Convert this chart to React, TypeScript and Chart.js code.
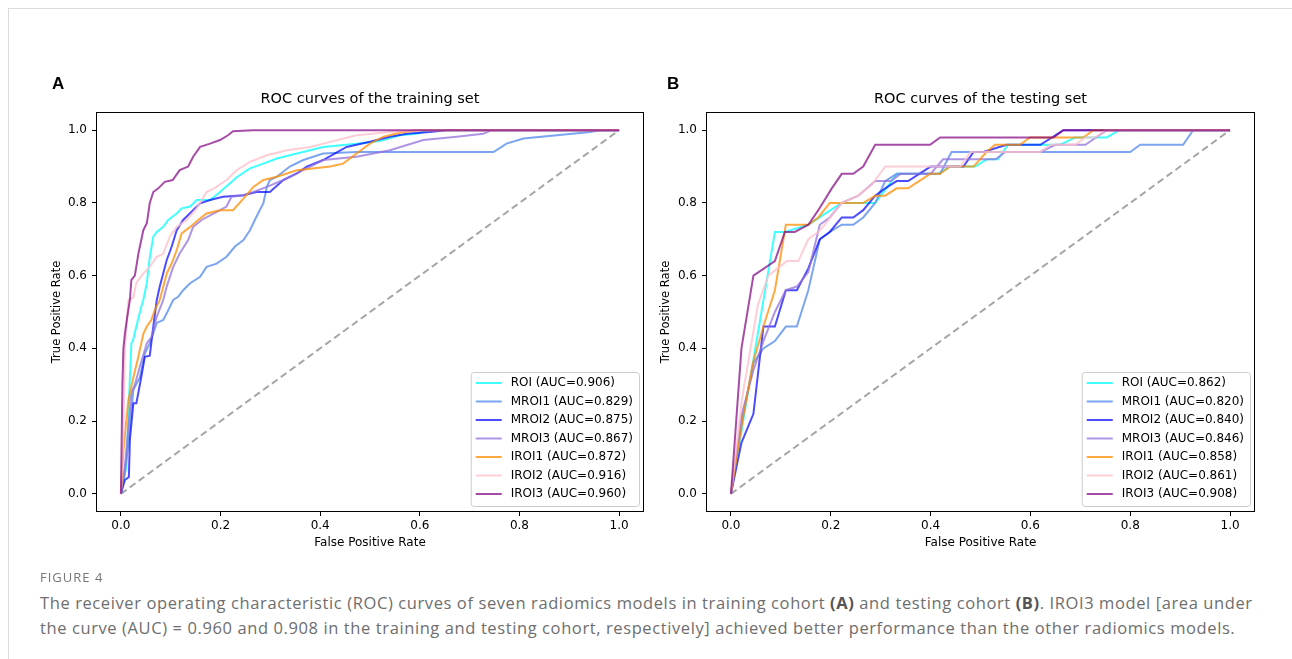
import React, { useEffect, useRef } from 'react';
import { Chart, registerables } from 'chart.js';

Chart.register(...registerables);

// ---------- data ----------
const seriesNames = ['ROI', 'MROI1', 'MROI2', 'MROI3', 'IROI1', 'IROI2', 'IROI3'];
const trainAUC = ['0.906', '0.829', '0.875', '0.867', '0.872', '0.916', '0.960'];
const testAUC = ['0.862', '0.820', '0.840', '0.846', '0.858', '0.861', '0.908'];
const seriesColors = [
  'rgba(0,255,255,0.75)',
  'rgba(100,149,237,0.85)',
  'rgba(0,0,255,0.7)',
  'rgba(147,112,219,0.75)',
  'rgba(255,140,0,0.75)',
  'rgba(255,192,203,0.8)',
  'rgba(128,0,128,0.7)',
];
const axisTicks = [0, 0.2, 0.4, 0.6, 0.8, 1.0];
const chanceLine = [[0, 0], [1, 1]];

const trainROI = [[0,0],[0.011,0.075],[0.016,0.25],[0.021,0.414],[0.024,0.42],[0.031,0.46],[0.041,0.515],[0.045,0.533],[0.052,0.58],[0.058,0.65],[0.065,0.707],[0.072,0.72],[0.085,0.734],[0.095,0.753],[0.112,0.771],[0.122,0.785],[0.139,0.79],[0.152,0.808],[0.179,0.808],[0.199,0.83],[0.219,0.854],[0.232,0.87],[0.259,0.895],[0.286,0.908],[0.313,0.922],[0.353,0.936],[0.38,0.945],[0.406,0.954],[0.473,0.963],[0.52,0.97],[0.56,0.986],[0.594,0.99],[0.62,1],[1,1]];
const trainMROI1 = [[0,0],[0.008,0.058],[0.015,0.139],[0.025,0.286],[0.038,0.32],[0.048,0.386],[0.058,0.414],[0.072,0.47],[0.085,0.478],[0.095,0.505],[0.105,0.533],[0.115,0.542],[0.125,0.56],[0.139,0.579],[0.159,0.597],[0.172,0.624],[0.192,0.633],[0.212,0.652],[0.229,0.68],[0.246,0.698],[0.259,0.725],[0.272,0.762],[0.286,0.799],[0.293,0.844],[0.299,0.863],[0.313,0.872],[0.339,0.9],[0.366,0.918],[0.406,0.936],[0.473,0.94],[0.748,0.94],[0.774,0.963],[0.808,0.977],[0.875,0.986],[0.942,0.995],[0.962,1],[1,1]];
const trainMROI2 = [[0,0],[0.008,0.038],[0.016,0.046],[0.018,0.148],[0.025,0.249],[0.031,0.249],[0.041,0.322],[0.048,0.377],[0.058,0.38],[0.065,0.46],[0.072,0.533],[0.078,0.57],[0.092,0.643],[0.102,0.68],[0.112,0.725],[0.125,0.753],[0.145,0.78],[0.159,0.799],[0.179,0.808],[0.205,0.817],[0.246,0.821],[0.272,0.83],[0.299,0.83],[0.326,0.863],[0.353,0.881],[0.373,0.9],[0.406,0.918],[0.453,0.954],[0.5,0.968],[0.54,0.982],[0.574,0.99],[0.62,0.995],[0.654,1],[1,1]];
const trainMROI3 = [[0,0],[0.008,0.075],[0.021,0.277],[0.028,0.3],[0.038,0.35],[0.052,0.414],[0.061,0.43],[0.072,0.487],[0.085,0.533],[0.092,0.57],[0.105,0.624],[0.118,0.661],[0.135,0.698],[0.145,0.734],[0.162,0.753],[0.179,0.766],[0.199,0.78],[0.212,0.79],[0.222,0.817],[0.246,0.821],[0.266,0.83],[0.293,0.844],[0.326,0.863],[0.353,0.881],[0.406,0.918],[0.473,0.927],[0.54,0.945],[0.607,0.973],[0.674,0.982],[0.727,0.99],[0.745,1],[1,1]];
const trainIROI1 = [[0,0],[0.005,0.12],[0.015,0.258],[0.025,0.32],[0.035,0.377],[0.045,0.44],[0.052,0.46],[0.061,0.478],[0.068,0.505],[0.078,0.533],[0.092,0.606],[0.102,0.634],[0.112,0.67],[0.122,0.716],[0.139,0.734],[0.155,0.753],[0.172,0.771],[0.199,0.78],[0.225,0.78],[0.246,0.812],[0.266,0.844],[0.286,0.863],[0.313,0.872],[0.353,0.89],[0.42,0.9],[0.446,0.908],[0.473,0.936],[0.5,0.963],[0.527,0.982],[0.56,0.993],[0.594,1],[1,1]];
const trainIROI2 = [[0,0],[0.003,0.1],[0.005,0.167],[0.008,0.4],[0.015,0.533],[0.025,0.54],[0.031,0.58],[0.045,0.606],[0.058,0.624],[0.072,0.652],[0.085,0.66],[0.098,0.707],[0.112,0.734],[0.132,0.753],[0.152,0.785],[0.172,0.83],[0.192,0.844],[0.212,0.863],[0.232,0.89],[0.259,0.913],[0.293,0.931],[0.333,0.945],[0.38,0.954],[0.406,0.963],[0.473,0.986],[0.54,0.995],[0.594,1],[1,1]];
const trainIROI3 = [[0,0],[0.003,0.3],[0.005,0.4],[0.008,0.44],[0.012,0.48],[0.018,0.533],[0.021,0.588],[0.028,0.6],[0.035,0.66],[0.045,0.725],[0.052,0.744],[0.058,0.8],[0.065,0.83],[0.075,0.84],[0.088,0.858],[0.104,0.863],[0.118,0.89],[0.135,0.9],[0.145,0.927],[0.159,0.954],[0.179,0.963],[0.199,0.973],[0.215,0.986],[0.225,0.997],[0.265,1],[1,1]];

const testROI = [[0,0],[0.088,0.72],[0.108,0.72],[0.155,0.74],[0.188,0.77],[0.222,0.8],[0.289,0.8],[0.333,0.88],[0.415,0.88],[0.439,0.9],[0.489,0.9],[0.513,0.92],[0.535,0.92],[0.555,0.96],[0.66,0.96],[0.69,0.98],[0.753,0.98],[0.778,1],[1,1]];
const testMROI1 = [[0,0],[0.022,0.2],[0.045,0.36],[0.065,0.4],[0.088,0.42],[0.11,0.46],[0.132,0.46],[0.155,0.56],[0.178,0.7],[0.198,0.72],[0.222,0.74],[0.245,0.74],[0.265,0.76],[0.289,0.8],[0.309,0.86],[0.332,0.88],[0.419,0.88],[0.442,0.94],[0.8,0.94],[0.82,0.96],[0.906,0.96],[0.926,1],[1,1]];
const testMROI2 = [[0,0],[0.021,0.14],[0.045,0.22],[0.065,0.46],[0.088,0.46],[0.11,0.56],[0.132,0.56],[0.155,0.62],[0.178,0.7],[0.198,0.72],[0.222,0.76],[0.245,0.76],[0.265,0.78],[0.289,0.82],[0.309,0.84],[0.332,0.86],[0.355,0.86],[0.4,0.9],[0.466,0.9],[0.486,0.94],[0.506,0.94],[0.552,0.96],[0.62,0.96],[0.666,1],[1,1]];
const testMROI3 = [[0,0],[0.022,0.22],[0.045,0.34],[0.065,0.42],[0.088,0.5],[0.11,0.56],[0.132,0.57],[0.155,0.61],[0.178,0.74],[0.198,0.76],[0.222,0.8],[0.255,0.82],[0.289,0.86],[0.32,0.86],[0.34,0.88],[0.4,0.88],[0.425,0.92],[0.53,0.92],[0.55,0.94],[0.62,0.94],[0.65,0.96],[0.71,0.96],[0.753,1],[1,1]];
const testIROI1 = [[0,0],[0.023,0.2],[0.044,0.36],[0.065,0.46],[0.088,0.56],[0.11,0.74],[0.155,0.74],[0.175,0.76],[0.198,0.8],[0.265,0.8],[0.289,0.82],[0.309,0.82],[0.332,0.84],[0.355,0.84],[0.399,0.88],[0.419,0.88],[0.439,0.9],[0.486,0.9],[0.512,0.94],[0.529,0.96],[0.579,0.96],[0.599,0.98],[0.706,0.98],[0.726,1],[1,1]];
const testIROI2 = [[0,0],[0.022,0.26],[0.054,0.52],[0.075,0.6],[0.112,0.64],[0.135,0.64],[0.155,0.7],[0.175,0.72],[0.188,0.74],[0.222,0.8],[0.255,0.82],[0.282,0.85],[0.309,0.9],[0.46,0.9],[0.48,0.94],[0.62,0.94],[0.64,0.96],[0.69,0.96],[0.71,0.98],[0.73,0.98],[0.75,1],[1,1]];
const testIROI3 = [[0,0],[0.021,0.4],[0.045,0.6],[0.088,0.64],[0.108,0.72],[0.128,0.72],[0.155,0.74],[0.175,0.78],[0.202,0.84],[0.222,0.88],[0.245,0.88],[0.265,0.9],[0.289,0.96],[0.399,0.96],[0.419,0.98],[0.646,0.98],[0.666,1],[1,1]];

const trainSeries = [trainROI, trainMROI1, trainMROI2, trainMROI3, trainIROI1, trainIROI2, trainIROI3];
const testSeries = [testROI, testMROI1, testMROI2, testMROI3, testIROI1, testIROI2, testIROI3];

const FONT = 'DejaVu Sans';

// ---------- plugin: frame, title, legend inside axes ----------
const decorPlugin = {
  id: 'decor',
  afterDatasetsDraw(chart: any, _args: any, opts: any) {
    const { ctx, chartArea: a } = chart;
    ctx.save();
    // frame
    ctx.strokeStyle = '#000';
    ctx.lineWidth = 1;
    const l = Math.round(a.left) + 0.5;
    const t = Math.round(a.top) + 0.5;
    const r = Math.round(a.right) - 0.5;
    const b = Math.round(a.bottom) - 0.5;
    ctx.strokeRect(l, t, r - l, b - t);
    // title
    ctx.fillStyle = '#000';
    ctx.font = `14.5px "${FONT}"`;
    ctx.textAlign = 'center';
    ctx.textBaseline = 'middle';
    ctx.fillText(opts.title, (a.left + a.right) / 2, a.top - 13);
    // legend
    const items = chart.data.datasets.filter((d: any) => d.label);
    ctx.font = `12px "${FONT}"`;
    const maxW = Math.max(...items.map((d: any) => ctx.measureText(d.label).width));
    const w = 40 + maxW + 6;
    const h = 134;
    const x0 = a.right - 5 - w;
    const y0 = a.bottom - 6 - h;
    ctx.beginPath();
    (ctx as any).roundRect(x0 + 0.5, y0 + 0.5, w, h, 3);
    ctx.fillStyle = 'rgba(255,255,255,0.8)';
    ctx.fill();
    ctx.strokeStyle = '#cccccc';
    ctx.stroke();
    ctx.textAlign = 'left';
    items.forEach((d: any, i: number) => {
      const y = y0 + 11 + i * 18.5;
      ctx.beginPath();
      ctx.moveTo(x0 + 5, y);
      ctx.lineTo(x0 + 31, y);
      ctx.strokeStyle = d.borderColor;
      ctx.lineWidth = 2;
      ctx.stroke();
      ctx.fillStyle = '#000';
      ctx.fillText(d.label, x0 + 40, y);
    });
    ctx.restore();
  },
};

function makeConfig(series: number[][][], auc: string[], title: string, yWidth: number, yTitlePad: number, padRight: number) {
  const datasets: any[] = series.map((pts, i) => ({
    label: `${seriesNames[i]} (AUC=${auc[i]})`,
    data: pts.map(([x, y]) => ({ x, y })),
    borderColor: seriesColors[i],
    borderWidth: 2,
    pointRadius: 0,
    tension: 0,
    fill: false,
    order: 10 - i,
  }));
  datasets.push({
    label: '',
    data: chanceLine.map(([x, y]) => ({ x, y })),
    borderColor: '#a6a6a6',
    borderDash: [7, 4],
    borderWidth: 2,
    pointRadius: 0,
    fill: false,
    order: 20,
  });
  const tickFont = { family: FONT, size: 12 };
  return {
    type: 'line',
    data: { datasets },
    plugins: [decorPlugin],
    options: {
      responsive: false,
      animation: false,
      devicePixelRatio: 1,
      events: [],
      layout: { padding: { top: 52, right: padRight, bottom: 8, left: 0 } },
      plugins: {
        legend: { display: false },
        tooltip: { enabled: false },
        title: { display: false },
        decor: { title },
      },
      scales: {
        x: {
          type: 'linear',
          min: -0.05,
          max: 1.05,
          afterBuildTicks: (s: any) => { s.ticks = axisTicks.map((v) => ({ value: v })); },
          afterFit: (s: any) => { s.height = 50; },
          ticks: { callback: (v: any) => Number(v).toFixed(1), font: tickFont, color: '#000', padding: 3, maxRotation: 0, autoSkip: false },
          grid: { display: true, drawOnChartArea: false, drawTicks: true, tickLength: 4, color: '#000', lineWidth: 1 },
          border: { display: false },
          title: { display: true, text: 'False Positive Rate', font: tickFont, color: '#000', padding: { top: 0, bottom: 12 } },
        },
        y: {
          type: 'linear',
          min: -0.05,
          max: 1.05,
          afterBuildTicks: (s: any) => { s.ticks = axisTicks.map((v) => ({ value: v })); },
          afterFit: (s: any) => { s.width = yWidth; },
          ticks: { callback: (v: any) => Number(v).toFixed(1), font: tickFont, color: '#000', padding: 5, autoSkip: false },
          grid: { display: true, drawOnChartArea: false, drawTicks: true, tickLength: 4, color: '#000', lineWidth: 1 },
          border: { display: false },
          title: { display: true, text: 'True Positive Rate', font: { family: FONT, size: 11.5 }, color: '#000', padding: { top: yTitlePad, bottom: 0 } },
        },
      },
    },
  };
}

function RocChart(props: { series: number[][][]; auc: string[]; title: string; left: number; yWidth: number; yTitlePad: number; padRight: number }) {
  const ref = useRef<HTMLCanvasElement | null>(null);
  useEffect(() => {
    if (!ref.current) return;
    const chart = new Chart(ref.current, makeConfig(props.series, props.auc, props.title, props.yWidth, props.yTitlePad, props.padRight) as any);
    return () => chart.destroy();
  }, []);
  return (
    <canvas
      ref={ref}
      width={660}
      height={510}
      style={{ position: 'absolute', left: props.left, top: 60, width: 660, height: 510 }}
    />
  );
}

export default function App() {
  const panelLabel: React.CSSProperties = {
    position: 'absolute',
    top: 74,
    fontFamily: '"Liberation Sans", Arial, sans-serif',
    fontWeight: 'bold',
    fontSize: 17,
    lineHeight: '20px',
    color: '#000',
  };
  const capText: React.CSSProperties = {
    position: 'absolute',
    left: 40,
    fontFamily: '"Open Sans", sans-serif',
    fontSize: 16.5,
    letterSpacing: 0.6,
    lineHeight: '25px',
    color: '#6e6e6e',
    whiteSpace: 'nowrap',
  };
  return (
    <div style={{ position: 'fixed', left: 0, top: 0, width: 1292, height: 659, background: '#fff', overflow: 'hidden' }}>
      <div style={{ position: 'absolute', left: 8, top: 8, width: 1300, height: 700, borderTop: '1px solid #dcdcdc', borderLeft: '1px solid #dcdcdc' }} />
      <RocChart series={trainSeries} auc={trainAUC} title="ROC curves of the training set" left={0} yWidth={96} yTitlePad={50} padRight={16} />
      <RocChart series={testSeries} auc={testAUC} title="ROC curves of the testing set" left={620} yWidth={86} yTitlePad={39} padRight={25} />
      <div style={{ ...panelLabel, left: 52 }}>A</div>
      <div style={{ ...panelLabel, left: 667 }}>B</div>
      <div style={{ ...capText, top: 565, fontSize: 13, letterSpacing: 1, lineHeight: '24px', color: '#777' }}>FIGURE 4</div>
      <div style={{ ...capText, top: 590 }}>
        The receiver operating characteristic (ROC) curves of seven radiomics models in training cohort <b style={{ color: '#555' }}>(A)</b> and testing cohort <b style={{ color: '#555' }}>(B)</b>. IROI3 model [area under
      </div>
      <div style={{ ...capText, top: 615 }}>
        the curve (AUC) = 0.960 and 0.908 in the training and testing cohort, respectively] achieved better performance than the other radiomics models.
      </div>
    </div>
  );
}
